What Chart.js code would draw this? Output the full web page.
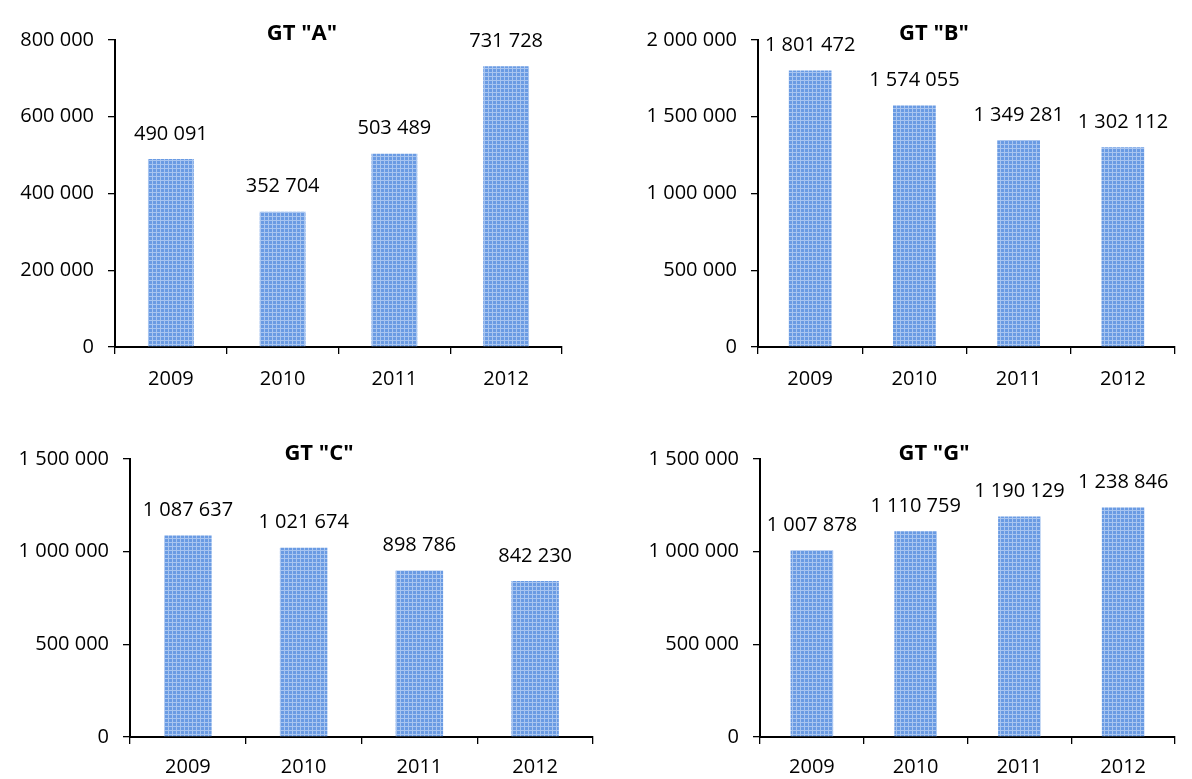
<!DOCTYPE html>
<html>
<head>
<meta charset="utf-8">
<script src="https://cdn.jsdelivr.net/npm/chart.js@4/dist/chart.umd.min.js"></script>
<style>
  html, body { margin: 0; padding: 0; background: #fff; }
  #wrap { position: relative; width: 1192px; height: 779px; overflow: hidden; }
  .box { position: absolute; }
  .titulo { position: absolute; font: bold 22px "Open Sans", sans-serif; color: #000; transform: translate(-50%, -50%); white-space: nowrap; }
</style>
</head>
<body>
<div id="wrap">
  <div class="box" style="left:0;top:0;width:596px;height:390px"><canvas id="chartA"></canvas></div>
  <div class="box" style="left:596px;top:0;width:596px;height:390px"><canvas id="chartB"></canvas></div>
  <div class="box" style="left:0;top:390px;width:596px;height:389px"><canvas id="chartC"></canvas></div>
  <div class="box" style="left:596px;top:390px;width:596px;height:389px"><canvas id="chartG"></canvas></div>
  <div class="titulo" style="left:302px;top:31px">GT "A"</div>
  <div class="titulo" style="left:934px;top:31px">GT "B"</div>
  <div class="titulo" style="left:319px;top:451px">GT "C"</div>
  <div class="titulo" style="left:934px;top:451px">GT "G"</div>
</div>
<script>
// dados
const years = ['2009', '2010', '2011', '2012'];
const valuesA = [490091, 352704, 503489, 731728];
const valuesB = [1801472, 1574055, 1349281, 1302112];
const valuesC = [1087637, 1021674, 898786, 842230];
const valuesG = [1007878, 1110759, 1190129, 1238846];
const maxA = 800000, stepA = 200000;
const maxB = 2000000, stepB = 500000;
const maxC = 1500000, stepC = 500000;
const maxG = 1500000, stepG = 500000;

const FONT = '"Open Sans", sans-serif';
const FONT_SIZE = 20;

function fmt(n) {
    return String(n).replace(/\B(?=(\d{3})+(?!\d))/g, ' ');
}

// textura das barras (grade clara sobre azul)
function barPattern() {
    const c = document.createElement('canvas');
    c.width = 4; c.height = 4;
    const g = c.getContext('2d');
    g.fillStyle = '#6a9be3';
    g.fillRect(0, 0, 4, 4);
    g.fillStyle = '#a8c5f0';
    g.fillRect(0, 0, 4, 1);
    g.fillRect(0, 0, 1, 4);
    return g.createPattern(c, 'repeat');
}

// rótulos acima das barras
const valueLabels = {
    id: 'valueLabels',
    afterDatasetsDraw(chart) {
        const ctx = chart.ctx;
        const meta = chart.getDatasetMeta(0);
        ctx.save();
        ctx.font = FONT_SIZE + 'px ' + FONT;
        ctx.fillStyle = '#000';
        ctx.textAlign = 'center';
        ctx.textBaseline = 'middle';
        meta.data.forEach((bar, i) => {
            ctx.fillText(fmt(chart.data.datasets[0].data[i]), bar.x, bar.y - 25);
        });
        ctx.restore();
    }
};

function makeChart(id, values, max, step, yWidth, xHeight, pad, xPad) {
    const ctx = document.getElementById(id).getContext('2d');
    return new Chart(ctx, {
        type: 'bar',
        data: { labels: years, datasets: [{ data: values, backgroundColor: barPattern(), borderWidth: 0, barPercentage: 0.41, categoryPercentage: 1 }] },
        options: {
            responsive: true,
            maintainAspectRatio: false,
            animation: false,
            layout: { padding: pad },
            plugins: { legend: { display: false }, tooltip: { enabled: false } },
            scales: {
                x: {
                    offset: true,
                    grid: { offset: true, drawOnChartArea: false, drawTicks: true, tickLength: 7, color: '#000', lineWidth: 1.3 },
                    border: { color: '#000', width: 2 },
                    ticks: { color: '#000', font: { family: FONT, size: FONT_SIZE }, padding: xPad, maxRotation: 0 },
                    afterFit: s => { s.height = xHeight; }
                },
                y: {
                    min: 0, max: max,
                    grid: { drawOnChartArea: false, drawTicks: true, tickLength: 7, color: '#000', lineWidth: 1.3 },
                    border: { color: '#000', width: 2 },
                    ticks: { stepSize: step, color: '#000', font: { family: FONT, size: FONT_SIZE }, padding: 14, callback: v => fmt(v) },
                    afterFit: s => { s.width = yWidth; }
                }
            }
        },
        plugins: [valueLabels]
    });
}

document.addEventListener('DOMContentLoaded', () => {
    makeChart('chartA', valuesA, maxA, stepA, 115, 43, { top: 40, right: 34, left: 0, bottom: 0 }, 13);
    makeChart('chartB', valuesB, maxB, stepB, 162, 43, { top: 40, right: 17, left: 0, bottom: 0 }, 13);
    makeChart('chartC', valuesC, maxC, stepC, 130, 42, { top: 69, right: 3, left: 0, bottom: 0 }, 11);
    makeChart('chartG', valuesG, maxG, stepG, 164, 42, { top: 69, right: 17, left: 0, bottom: 0 }, 11);
});
</script>
</body>
</html>
